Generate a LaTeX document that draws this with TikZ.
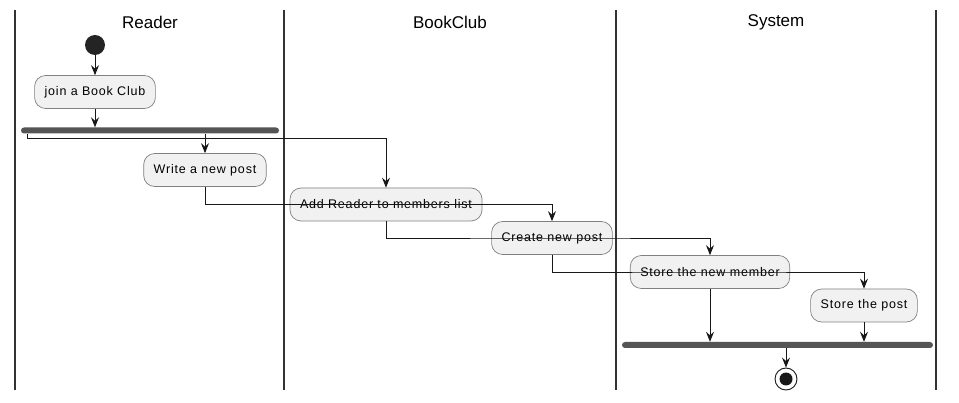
\documentclass[tikz,border=0pt]{standalone}
\usepackage{fontspec}
\setmainfont{Liberation Sans}
\newfontfamily\actfont[LetterSpace=6.5]{Liberation Sans}
\usepackage{xcolor}
\usetikzlibrary{arrows.meta}

\definecolor{actfill}{HTML}{F1F1F1}
\definecolor{inkdark}{HTML}{181818}
\definecolor{barfill}{HTML}{555555}
\definecolor{lanegray}{HTML}{333333}

\begin{document}
\begin{tikzpicture}[x=1pt,y=-1pt,
-{Stealth[length=10pt,width=8pt,inset=3.5pt]},>=Stealth]
     \tikzstyle{action}=[draw=inkdark!55,fill=actfill,line width=0.7pt,rounded corners=11pt,minimum height=33pt,inner xsep=10pt,font=\actfont\fontsize{12.5}{14}\selectfont]
     \tikzstyle{bar}=[fill=barfill,rounded corners=3pt,minimum height=6pt,inner sep=0pt]
     \tikzstyle{title}=[font=\fontsize{17}{19}\selectfont]
     \tikzstyle{edge}=[draw,line width=0.9pt,inkdark]
     \tikzstyle{lane}=[-,line width=2pt,lanegray]
     \useasboundingbox[fill=white] (0,0) rectangle (959,403);

     % swimlanes
     \foreach \x in {15,284,616,936}
          \draw[lane] (\x,10) -- (\x,390);
     \node[title] (readerlane) at (150,22) {Reader};
     \node[title] (clublane) at (450,22) {BookClub};
     \node[title] (systemlane) at (776,22) {System};

     \node[circle,fill=inkdark!95,minimum size=20pt,inner sep=0pt] (start) at (95,45) {};
     \node[action] (joinclub) at (95,92) {join a Book Club};
     \node[bar,minimum width=258pt] (fork) at (150,130.5) {};
     \node[action] (write) at (205,170) {Write a new post};
     \node[action] (addreader) at (386,204.5) {Add Reader to members list};
     \node[action] (createpost) at (552,238) {Create new post};
     \node[action] (storemember) at (710,272) {Store the new member};
     \node[action] (storepost) at (864,305.5) {Store the post};
     \node[bar,minimum width=311pt] (joinbar) at (777.5,345) {};
     \node[circle,draw=inkdark,line width=0.9pt,fill=white,minimum size=22pt,inner sep=0pt] (stop) at (786,379) {};
     \node[circle,fill=inkdark,minimum size=13pt,inner sep=0pt] (stopdot) at (stop) {};

     \draw[edge] (start) -- (joinclub);
     \draw[edge] (joinclub) -- (joinclub.south |- fork.north);
     \draw[edge] (fork.south -| write.north) -- (write);
     \draw[edge] ([xshift=7pt]fork.south west) -- ++(0,5) -| (addreader.north);
     \draw[edge] (write.south) |- (addreader.center) -| (createpost.north);
     \draw[edge] (addreader.south) |- (createpost.center) -| (storemember.north);
     \draw[edge] (createpost.south) |- (storemember.center) -| (storepost.north);
     \draw[edge] (storemember.south) -- (storemember.south |- joinbar.north);
     \draw[edge] (storepost.south) -- (storepost.south |- joinbar.north);
     \draw[edge] (joinbar.south -| stop.north) -- (stop.north);
 \end{tikzpicture}
\end{document}
